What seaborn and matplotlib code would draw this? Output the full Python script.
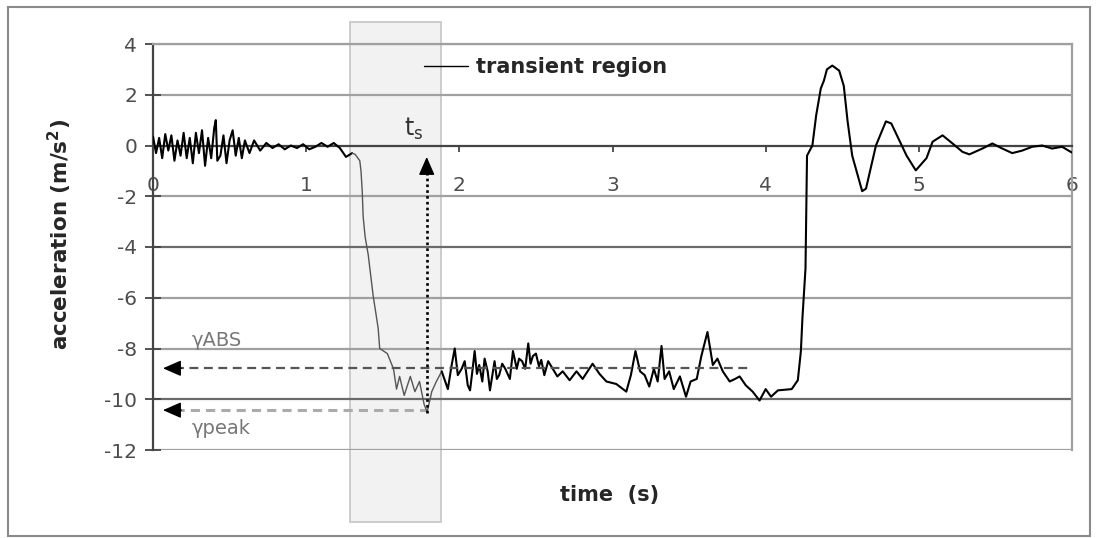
import numpy as np
import pandas as pd
import matplotlib.pyplot as plt
import seaborn as sns
from matplotlib.patches import Rectangle
from matplotlib.lines import Line2D

# quiet phase before the drop (black)
t_start = [0.00, 0.02, 0.04, 0.06, 0.08, 0.10, 0.12, 0.14, 0.16, 0.18, 0.20, 0.22, 0.24,
           0.26, 0.28, 0.30, 0.32, 0.34, 0.36, 0.38, 0.40, 0.41, 0.42, 0.44, 0.46, 0.48,
           0.50, 0.52, 0.54, 0.56, 0.58, 0.60, 0.63, 0.66, 0.70, 0.74, 0.78, 0.82, 0.86,
           0.90, 0.94, 0.98, 1.02, 1.06, 1.10, 1.14, 1.18, 1.22, 1.26, 1.30]
a_start = [0.35, -0.30, 0.30, -0.50, 0.45, -0.20, 0.40, -0.60, 0.20, -0.40, 0.50, -0.50, 0.30,
           -0.70, 0.50, -0.30, 0.60, -0.80, 0.30, -0.50, 0.70, 1.00, -0.60, -0.40, 0.40, -0.70,
           0.20, 0.60, -0.40, 0.30, -0.50, 0.20, -0.30, 0.20, -0.20, 0.10, -0.10, 0.05, -0.15,
           0.00, -0.10, 0.05, -0.15, -0.05, 0.10, -0.05, 0.10, -0.10, -0.45, -0.30]

# transient region (thin grey)
t_trans = [1.30, 1.32, 1.35, 1.358, 1.366, 1.372, 1.385, 1.405, 1.437, 1.47, 1.48, 1.53, 1.57,
           1.59, 1.61, 1.64, 1.68, 1.71, 1.74, 1.77, 1.79, 1.82, 1.85, 1.885]
a_trans = [-0.30, -0.35, -0.60, -1.00, -1.80, -2.80, -3.60, -4.30, -5.90, -7.20, -8.00, -8.20,
           -8.80, -9.60, -9.10, -9.85, -9.10, -9.70, -9.30, -10.20, -10.50, -9.70, -9.30, -8.90]

# settled free-fall phase (black)
t_settle = [1.885, 1.925, 1.95, 1.97, 1.99, 2.015, 2.035, 2.055, 2.07, 2.085, 2.10, 2.115,
            2.13, 2.15, 2.165, 2.185, 2.20, 2.23, 2.245, 2.26, 2.28, 2.30, 2.33, 2.35, 2.375,
            2.39, 2.41, 2.43, 2.45, 2.465, 2.48, 2.50, 2.52, 2.535, 2.555, 2.58, 2.61, 2.64,
            2.675, 2.72, 2.765, 2.805, 2.87, 2.915, 2.96, 3.025, 3.09, 3.12, 3.15, 3.18, 3.21,
            3.24, 3.27, 3.295, 3.32, 3.34, 3.37, 3.40, 3.44, 3.48, 3.51, 3.55, 3.58, 3.62,
            3.655, 3.685, 3.72, 3.765, 3.80, 3.83, 3.87, 3.915, 3.96, 4.00, 4.035, 4.08, 4.17,
            4.21, 4.23, 4.24]
a_settle = [-8.90, -9.60, -8.65, -8.00, -9.05, -8.80, -8.50, -9.45, -9.65, -8.90, -8.10, -9.00,
            -8.65, -9.30, -8.40, -8.90, -9.65, -8.50, -9.20, -9.05, -8.60, -8.80, -9.20, -8.10,
            -8.80, -8.40, -8.50, -8.80, -7.80, -8.60, -8.30, -8.20, -8.70, -8.45, -9.05, -8.50,
            -8.80, -9.10, -8.90, -9.25, -8.90, -9.20, -8.60, -9.00, -9.30, -9.40, -9.70, -9.05,
            -8.10, -8.90, -9.05, -9.50, -8.80, -9.30, -7.90, -9.20, -8.90, -9.60, -9.10, -9.90,
            -9.30, -9.20, -8.30, -7.35, -8.65, -8.40, -8.90, -9.30, -9.20, -9.10, -9.45, -9.70,
            -10.05, -9.60, -9.90, -9.65, -9.60, -9.25, -8.10, -6.80]

# impact and rebound (black)
t_rebound = [4.24, 4.26, 4.27, 4.305, 4.33, 4.36, 4.38, 4.40, 4.435, 4.48, 4.51, 4.535, 4.565,
             4.63, 4.655, 4.72, 4.785, 4.82, 4.92, 4.98, 5.05, 5.09, 5.155, 5.22, 5.285, 5.33,
             5.415, 5.48, 5.545, 5.61, 5.675, 5.74, 5.805, 5.87, 5.935, 6.00]
a_rebound = [-6.80, -4.85, -0.40, 0.00, 1.20, 2.25, 2.55, 3.00, 3.15, 2.95, 2.35, 0.95, -0.40,
             -1.80, -1.70, 0.00, 0.95, 0.87, -0.40, -0.98, -0.50, 0.15, 0.40, 0.08, -0.25, -0.35,
             -0.12, 0.08, -0.12, -0.30, -0.20, -0.05, 0.00, -0.12, -0.05, -0.28]

# annotation levels
region_start, region_end = 1.285, 1.879
t_s = 1.787
t_s_top = -0.45
gamma_abs = -8.78
gamma_peak = -10.43
abs_end = 3.91
arrow_tip = 0.065

y_ticks = [4, 2, 0, -2, -4, -6, -8, -10, -12]
x_ticks = [0, 1, 2, 3, 4, 5, 6]

sns.set_style("white")
plt.rcParams['font.family'] = ['DejaVu Sans']
plt.rcParams['axes.unicode_minus'] = False

fig = plt.figure(figsize=(10.96, 5.38), dpi=100)
ax = fig.add_axes([153 / 1096, 1 - 450 / 538, 919 / 1096, 406 / 538])

# outer frame of the chart
fig.patches.append(Rectangle((8 / 1096, 2 / 538), 1082 / 1096, 529 / 538,
                             transform=fig.transFigure, fill=False,
                             edgecolor='#8a8a8a', lw=1.5))

# shaded transient region extends beyond the plot area
ax.add_patch(Rectangle((region_start, -14.83), region_end - region_start, 19.7,
                       facecolor='#f2f2f2', edgecolor='#c8c8c8', lw=1.3,
                       zorder=0.2, clip_on=False))

# horizontal gridlines
for yv in y_ticks:
    if yv == 0:
        continue
    col = '#6a6a6a' if yv in (-4, -10) else '#a0a0a0'
    ax.axhline(yv, color=col, lw=1.6, zorder=0.5)

df_start = pd.DataFrame({"t": t_start, "a": a_start})
df_trans = pd.DataFrame({"t": t_trans, "a": a_trans})
df_rest = pd.DataFrame({"t": t_settle + t_rebound[1:], "a": a_settle + a_rebound[1:]})

sns.lineplot(data=df_start, x="t", y="a", ax=ax, color='black', lw=1.5,
             estimator=None, sort=False, zorder=3)
sns.lineplot(data=df_trans, x="t", y="a", ax=ax, color='#555555', lw=1.0,
             estimator=None, sort=False, zorder=3)
sns.lineplot(data=df_rest, x="t", y="a", ax=ax, color='black', lw=1.5,
             estimator=None, sort=False, zorder=3)

# gamma lines with arrow heads
ax.hlines(gamma_abs, arrow_tip + 0.08, abs_end, colors='#555555', lw=1.6,
          linestyles=(0, (4, 2.5)), zorder=4)
ax.hlines(gamma_peak, arrow_tip + 0.08, t_s, colors='#ababab', lw=2.2,
          linestyles=(0, (3, 2)), zorder=2.5)
head = dict(arrowstyle='-|>,head_length=0.8,head_width=0.35', color='black',
            mutation_scale=14, shrinkA=0, shrinkB=0, lw=1)
ax.annotate('', xy=(arrow_tip, gamma_abs), xytext=(arrow_tip + 0.12, gamma_abs),
            arrowprops=head, zorder=5)
ax.annotate('', xy=(arrow_tip, gamma_peak), xytext=(arrow_tip + 0.12, gamma_peak),
            arrowprops=head, zorder=5)

# t_s marker
ax.vlines(t_s, gamma_peak - 0.1, t_s_top - 0.5, colors='black', lw=1.9,
          linestyles=(0, (1, 1.2)), zorder=5)
ax.annotate('', xy=(t_s, t_s_top), xytext=(t_s, t_s_top - 0.7),
            arrowprops=head, zorder=5)

ax.text(1.70, 0.67, r'$\mathregular{t_s}$', fontsize=17, color='#333333',
        ha='center', va='center')
ax.text(0.254, -7.68, 'γABS', fontsize=14, color='#777777', ha='left', va='center')
ax.text(0.254, -11.15, 'γpeak', fontsize=14, color='#777777', ha='left', va='center')

ax.legend(handles=[Line2D([], [], color='black', lw=1.0)], labels=['transient region'],
          frameon=False, loc='center left', bbox_to_anchor=(0.295, 0.943),
          borderpad=0, borderaxespad=0, handlelength=2.1, handletextpad=0.4,
          prop={'weight': 'bold', 'size': 15})

ax.set_xlim(0, 6)
ax.set_ylim(-12, 4)
ax.set_xticks(x_ticks)
ax.set_yticks(y_ticks)
ax.set_xticklabels([str(v) for v in x_ticks])
ax.set_yticklabels([str(v) for v in y_ticks])

ax.spines['bottom'].set_position(('data', 0))
ax.spines['bottom'].set_color('#444444')
ax.spines['bottom'].set_linewidth(1.6)
ax.spines['bottom'].set_zorder(2.6)
ax.spines['left'].set_color('#444444')
ax.spines['left'].set_linewidth(1.6)
ax.spines['top'].set_color('#a0a0a0')
ax.spines['top'].set_linewidth(1.6)
ax.spines['right'].set_color('#a0a0a0')
ax.spines['right'].set_linewidth(1.6)

ax.tick_params(axis='y', direction='inout', length=11, width=1.3, color='#444444',
               labelsize=14.5, labelcolor='#4d4d4d', pad=6, left=True)
ax.tick_params(axis='x', direction='out', length=4, width=1.3, color='#444444',
               labelsize=14.5, labelcolor='#4d4d4d', pad=18, bottom=True)

ax.set_xlabel('time  (s)', fontsize=15, fontweight='bold')
ax.set_ylabel('acceleration (m/s$^\\mathregular{2}$)', fontsize=15.5, fontweight='bold')
ax.xaxis.set_label_coords(0.497, -0.111)
ax.xaxis.label.set_va('center')
ax.yaxis.set_label_coords(-0.101, 0.53)
ax.yaxis.label.set_va('center')

fig.savefig('out.png', dpi=100)
